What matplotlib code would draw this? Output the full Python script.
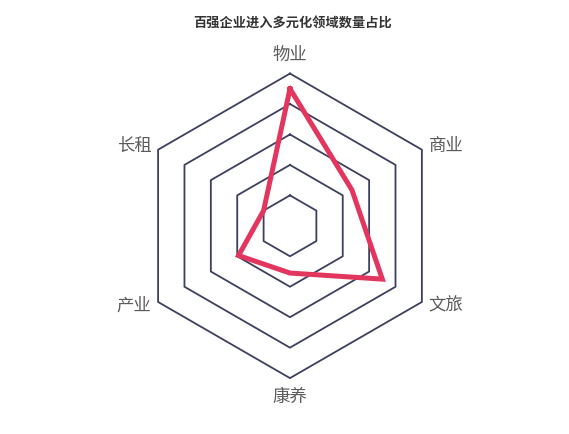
import numpy as np
import matplotlib
matplotlib.use("Agg")
import matplotlib.pyplot as plt

plt.rcParams['font.family'] = ['Noto Sans CJK SC', 'DejaVu Sans']

categories = ['物业', '商业', '文旅', '康养', '产业', '长租']
values = [90, 47, 70, 31, 39, 20]
rings = [20, 40, 60, 80, 100]
title = '百强企业进入多元化领域数量占比'

n = len(categories)
theta = np.arange(n) * 2 * np.pi / n  # clockwise from top
theta_c = np.append(theta, theta[0])

fig = plt.figure(figsize=(5.69, 4.34), dpi=100)
ax = fig.add_axes([0, 0, 1, 1])
ax.set_xlim(-190.4, 183.2)
ax.set_ylim(-136.7, 148.3)
ax.axis('off')

grid_color = '#3c405e'
for r in rings:
    ax.plot(r * np.sin(theta_c), r * np.cos(theta_c), color=grid_color, lw=1.3, zorder=1)

vals = np.array(values + [values[0]], dtype=float)
ax.plot(vals * np.sin(theta_c), vals * np.cos(theta_c), color='#e2365f', lw=3.6,
        solid_joinstyle='miter', zorder=3)

label_r = 105
for cat, t in zip(categories, theta):
    x, y = label_r * np.sin(t), label_r * np.cos(t)
    if abs(np.sin(t)) < 1e-6:
        ha = 'center'
        va = 'bottom' if np.cos(t) > 0 else 'top'
        y = (label_r + 1.5) * np.cos(t)
    else:
        ha = 'left' if np.sin(t) > 0 else 'right'
        va = 'center'
    ax.text(x, y, cat, ha=ha, va=va, fontsize=12.5, color='#5a5a5a')

fig.text(0.514, 1 - 24 / 434, title, ha='center', va='center', fontsize=9.5,
         fontweight='bold', color='#333333')

fig.savefig('out.png', dpi=100)
